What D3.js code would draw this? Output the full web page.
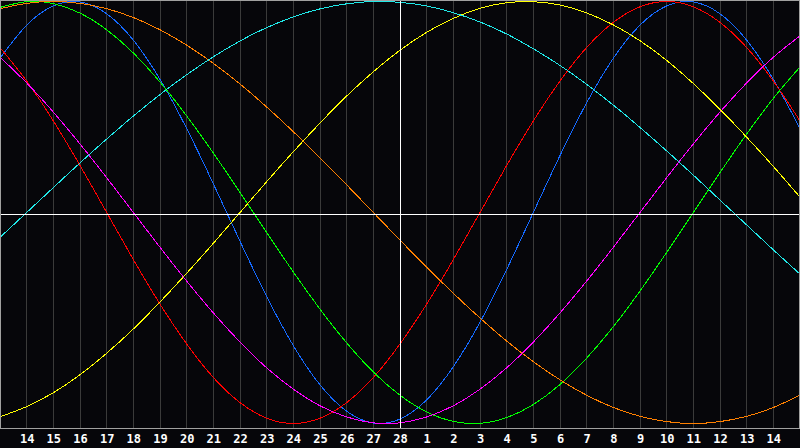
<!DOCTYPE html>
<html><head><meta charset="utf-8">
<script src="https://cdn.jsdelivr.net/npm/d3@7"></script>
<style>html,body{margin:0;padding:0;background:#06060a;overflow:hidden}</style>
</head><body><svg id="c" width="800" height="448"></svg>
<script>
// day index 0..30 (13th of first month .. 15th of next)
const days = d3.range(0, 31);
const tickLabels = ["14","15","16","17","18","19","20","21","22","23","24","25","26","27","28",
                    "1","2","3","4","5","6","7","8","9","10","11","12","13","14"]; // days 1..29
const todayIndex = 15;

const physical = [0.731,0.888,0.979,0.998,0.942,0.817,0.631,0.398,0.136,-0.136,-0.398,-0.631,-0.817,-0.942,-0.998,-0.979,-0.888,-0.731,-0.520,-0.270,0,0.270,0.520,0.731,0.888,0.979,0.998,0.942,0.817,0.631,0.398];
const emotional = [0.782,0.623,0.434,0.223,0,-0.223,-0.434,-0.623,-0.782,-0.901,-0.975,-1,-0.975,-0.901,-0.782,-0.623,-0.434,-0.223,0,0.223,0.434,0.623,0.782,0.901,0.975,1,0.975,0.901,0.782,0.623,0.434];
const intellectual = [0.972,0.999,0.990,0.945,0.866,0.756,0.618,0.458,0.282,0.095,-0.095,-0.282,-0.458,-0.618,-0.756,-0.866,-0.945,-0.990,-0.999,-0.972,-0.910,-0.815,-0.690,-0.541,-0.372,-0.189,0,0.189,0.372,0.541,0.690];
const intuitive = [0.736,0.614,0.476,0.325,0.165,0,-0.165,-0.325,-0.476,-0.614,-0.736,-0.837,-0.916,-0.969,-0.997,-0.997,-0.969,-0.916,-0.837,-0.736,-0.614,-0.476,-0.325,-0.165,0,0.165,0.325,0.476,0.614,0.736,0.837];
const aesthetic = [-0.968,-0.920,-0.854,-0.769,-0.667,-0.552,-0.424,-0.288,-0.146,0,0.146,0.288,0.424,0.552,0.667,0.769,0.854,0.920,0.968,0.994,0.999,0.983,0.946,0.889,0.814,0.721,0.611,0.489,0.357,0.218,0.073];
const awareness = [0.966,0.991,1,0.991,0.966,0.924,0.866,0.793,0.707,0.609,0.5,0.383,0.259,0.131,0,-0.131,-0.259,-0.383,-0.5,-0.609,-0.707,-0.793,-0.866,-0.924,-0.966,-0.991,-1,-0.991,-0.966,-0.924,-0.866];
const spiritual = [-0.118,0,0.118,0.235,0.348,0.457,0.559,0.653,0.738,0.813,0.876,0.927,0.965,0.989,1.000,0.996,0.979,0.947,0.903,0.846,0.776,0.697,0.607,0.509,0.403,0.292,0.177,0.059,-0.059,-0.177,-0.292];

const series = [
  {name:"Physical", values:physical, color:"#1469ff"},
  {name:"Emotional", values:emotional, color:"#ff0000"},
  {name:"Intellectual", values:intellectual, color:"#00ff00"},
  {name:"Intuitive", values:intuitive, color:"#ff00ff"},
  {name:"Aesthetic", values:aesthetic, color:"#ffff00"},
  {name:"Awareness", values:awareness, color:"#ff8000"},
  {name:"Spiritual", values:spiritual, color:"#20e8e8"}
];

const W = 800, H = 448, plotH = 428;
const svg = d3.select("#c");
const x = d3.scaleLinear().domain([0, 30]).range([0, W]);
const y = d3.scaleLinear().domain([-1, 1]).range([423.5, 1.5]);

svg.append("rect").attr("width", W).attr("height", H).attr("fill", "#06060a");

// vertical day grid
const gridDays = d3.range(1, 30);
svg.append("g").selectAll("line").data(gridDays.filter(d => d !== todayIndex)).join("line")
  .attr("x1", d => Math.floor(x(d)) + 0.5).attr("x2", d => Math.floor(x(d)) + 0.5)
  .attr("y1", 1).attr("y2", plotH)
  .attr("stroke", "#3a3a3a").attr("stroke-width", 1).attr("shape-rendering", "crispEdges");

// curves
const line = d3.line().x((v, i) => x(days[i])).y(v => y(v)).curve(d3.curveNatural);
svg.append("g").selectAll("path").data(series).join("path")
  .attr("d", s => line(s.values))
  .attr("fill", "none").attr("stroke", s => s.color).attr("stroke-width", 1)
  .attr("shape-rendering", "crispEdges");

// center lines
svg.append("line").attr("x1", 0).attr("x2", W).attr("y1", 214.5).attr("y2", 214.5)
  .attr("stroke", "#ffffff").attr("shape-rendering", "crispEdges");
svg.append("line").attr("x1", Math.floor(x(todayIndex)) + 0.5).attr("x2", Math.floor(x(todayIndex)) + 0.5)
  .attr("y1", 1).attr("y2", plotH)
  .attr("stroke", "#ffffff").attr("shape-rendering", "crispEdges");

// frame
svg.append("rect").attr("x", 0.5).attr("y", 0.5).attr("width", W - 1).attr("height", plotH)
  .attr("fill", "none").attr("stroke", "#a0a0a0").attr("shape-rendering", "crispEdges");

// axis labels
const axis = d3.axisBottom(x).tickValues(gridDays).tickSize(0).tickPadding(0)
  .tickFormat(d => tickLabels[d - 1]);
const ag = svg.append("g").attr("transform", `translate(0,${plotH + 6})`).call(axis);
ag.select(".domain").remove();
ag.selectAll("text").attr("fill", "#ffffff")
  .attr("font-family", "'DejaVu Sans Mono', monospace").attr("font-weight", "bold")
  .attr("font-size", 12).attr("dy", "0.71em");
</script></body></html>
